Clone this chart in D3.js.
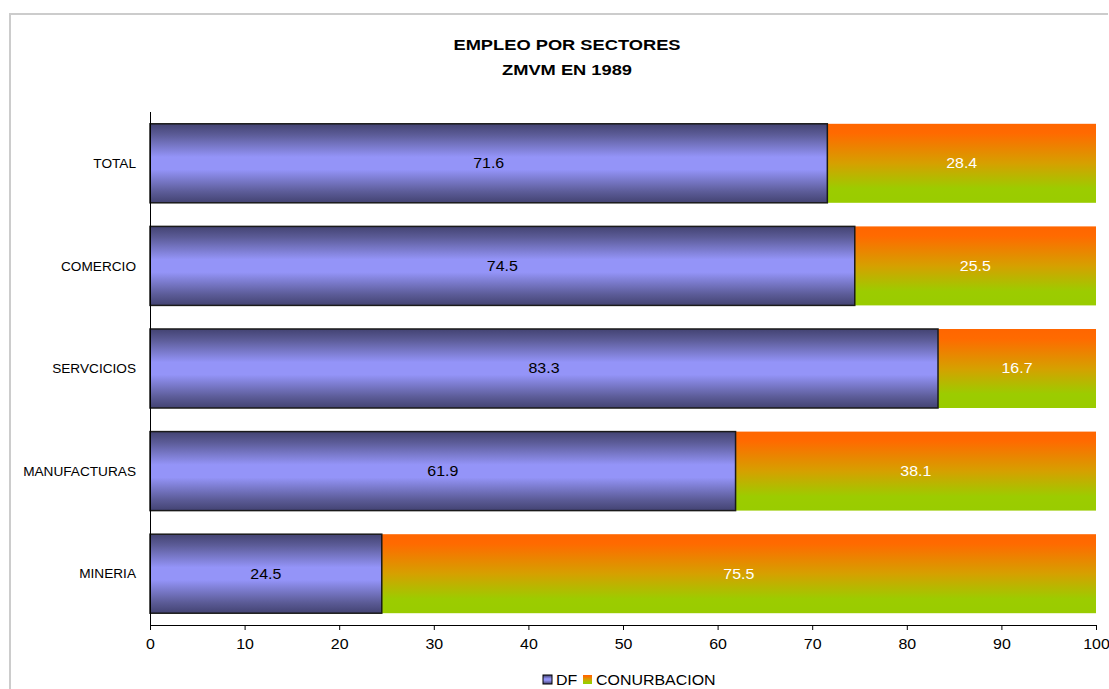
<!DOCTYPE html>
<html>
<head>
<meta charset="utf-8">
<script src="https://cdn.jsdelivr.net/npm/d3@7"></script>
<style>
  html, body { margin: 0; padding: 0; background: #fff; }
  svg { display: block; font-family: "Liberation Sans", Arial, sans-serif; }
</style>
</head>
<body>
<svg id="chart" width="1109" height="689"></svg>
<script>
// Sectors and the share of employment in each part of the metro area (%)
const categories = ["TOTAL", "COMERCIO", "SERVCICIOS", "MANUFACTURAS", "MINERIA"];
const dfValues = [71.6, 74.5, 83.3, 61.9, 24.5];
const conurbacionValues = [28.4, 25.5, 16.7, 38.1, 75.5];
const seriesNames = ["DF", "CONURBACION"];
const xTicks = [0, 10, 20, 30, 40, 50, 60, 70, 80, 90, 100];
const titleLines = ["EMPLEO POR SECTORES", "ZMVM EN 1989"];

const svg = d3.select("#chart");
const W = 1109, H = 689;
const plot = { left: 150, right: 1096, top: 112, bottom: 625 };

// draws text slightly wide, the way the chart's font renders
function wide(sel, sx) {
  sel.each(function () {
    const t = d3.select(this);
    const tx = +t.attr("x") || 0, ty = +t.attr("y") || 0;
    t.attr("x", 0).attr("y", 0)
      .attr("transform", `translate(${tx},${ty}) scale(${sx},1)`);
  });
}

// outer frame
svg.append("path")
  .attr("d", `M10,${H} L10,14 L${W - 1},14`)
  .attr("fill", "none").attr("stroke", "#cccccc").attr("stroke-width", 2);

const defs = svg.append("defs");
const gDF = defs.append("linearGradient").attr("id", "gradDF")
  .attr("x1", 0).attr("y1", 0).attr("x2", 0).attr("y2", 1);
[[0, "#434372"], [0.14, "#5c5c98"], [0.42, "#9494f8"], [0.58, "#9494f8"], [0.86, "#5c5c98"], [1, "#434372"]]
  .forEach(([o, c]) => gDF.append("stop").attr("offset", o).attr("stop-color", c));
const gCO = defs.append("linearGradient").attr("id", "gradCO")
  .attr("x1", 0).attr("y1", 0).attr("x2", 0).attr("y2", 1);
[[0, "#ff6600"], [0.12, "#ff6a00"], [0.5, "#d6a000"], [0.82, "#9ccc00"], [1, "#99cc00"]]
  .forEach(([o, c]) => gCO.append("stop").attr("offset", o).attr("stop-color", c));

const x = d3.scaleLinear().domain([0, 100]).range([plot.left, plot.right]);
const y = d3.scaleBand().domain(categories).range([plot.top, plot.bottom])
  .paddingInner(0.23).paddingOuter(0.115);

const rows = categories.map((c, i) => ({ cat: c, df: dfValues[i], co: conurbacionValues[i] }));

// CONURBACION segments
svg.append("g").selectAll("rect").data(rows).join("rect")
  .attr("x", d => x(d.df))
  .attr("y", d => y(d.cat))
  .attr("width", d => x(d.df + d.co) - x(d.df))
  .attr("height", y.bandwidth())
  .attr("fill", "url(#gradCO)");

// DF segments
svg.append("g").selectAll("rect").data(rows).join("rect")
  .attr("x", x(0))
  .attr("y", d => y(d.cat))
  .attr("width", d => x(d.df) - x(0))
  .attr("height", y.bandwidth())
  .attr("fill", "url(#gradDF)")
  .attr("stroke", "#1a1a1a").attr("stroke-width", 1.5);

// value labels
svg.append("g").selectAll("text").data(rows).join("text")
  .attr("x", d => x(d.df / 2))
  .attr("y", d => y(d.cat) + y.bandwidth() / 2)
  .attr("dy", "0.35em").attr("text-anchor", "middle")
  .attr("font-size", 14).attr("fill", "#000")
  .text(d => d.df.toFixed(1))
  .call(wide, 1.14);
svg.append("g").selectAll("text").data(rows).join("text")
  .attr("x", d => x(d.df + d.co / 2))
  .attr("y", d => y(d.cat) + y.bandwidth() / 2)
  .attr("dy", "0.35em").attr("text-anchor", "middle")
  .attr("font-size", 14).attr("fill", "#ffffff")
  .text(d => d.co.toFixed(1))
  .call(wide, 1.14);

// x axis
const xAxis = svg.append("g").attr("transform", `translate(0,${plot.bottom})`)
  .call(d3.axisBottom(x).tickValues(xTicks).tickSize(5).tickPadding(9).tickFormat(d3.format("d")));
xAxis.select(".domain").attr("stroke", "#000").attr("d", `M${plot.left},0.5H${plot.right}`);
xAxis.selectAll(".tick line").attr("stroke", "#000");
xAxis.selectAll("text").attr("font-size", 14).attr("fill", "#000")
  .attr("font-family", "Liberation Sans, Arial, sans-serif")
  .call(wide, 1.14);

// y axis
const yAxis = svg.append("g").attr("transform", `translate(${plot.left},0)`)
  .call(d3.axisLeft(y).tickSize(0).tickPadding(14));
yAxis.select(".domain").attr("stroke", "#000").attr("d", `M0.5,${plot.top}V${plot.bottom}`);
yAxis.selectAll("text").attr("font-size", 13).attr("fill", "#000")
  .attr("font-family", "Liberation Sans, Arial, sans-serif")
  .attr("dy", "0.36em")
  .call(wide, 1.05);

// title
svg.append("g").selectAll("text").data(titleLines).join("text")
  .attr("x", 567).attr("y", (d, i) => 50 + i * 25)
  .attr("text-anchor", "middle").attr("font-size", 15.5).attr("font-weight", "bold")
  .text(d => d)
  .call(wide, 1.18);

// legend
const legend = svg.append("g").attr("transform", "translate(543,675)");
const items = [{ name: seriesNames[0], fill: "url(#gradDF)", stroke: "#000", x: 0 },
               { name: seriesNames[1], fill: "url(#gradCO)", stroke: "none", x: 40 }];
const li = legend.selectAll("g").data(items).join("g").attr("transform", d => `translate(${d.x},0)`);
li.append("rect").attr("width", 9).attr("height", 9)
  .attr("fill", d => d.fill).attr("stroke", d => d.stroke).attr("stroke-width", 1);
li.append("text").attr("x", 13).attr("y", 10)
  .attr("font-size", 14).text(d => d.name)
  .call(wide, 1.14);
</script>
</body>
</html>
